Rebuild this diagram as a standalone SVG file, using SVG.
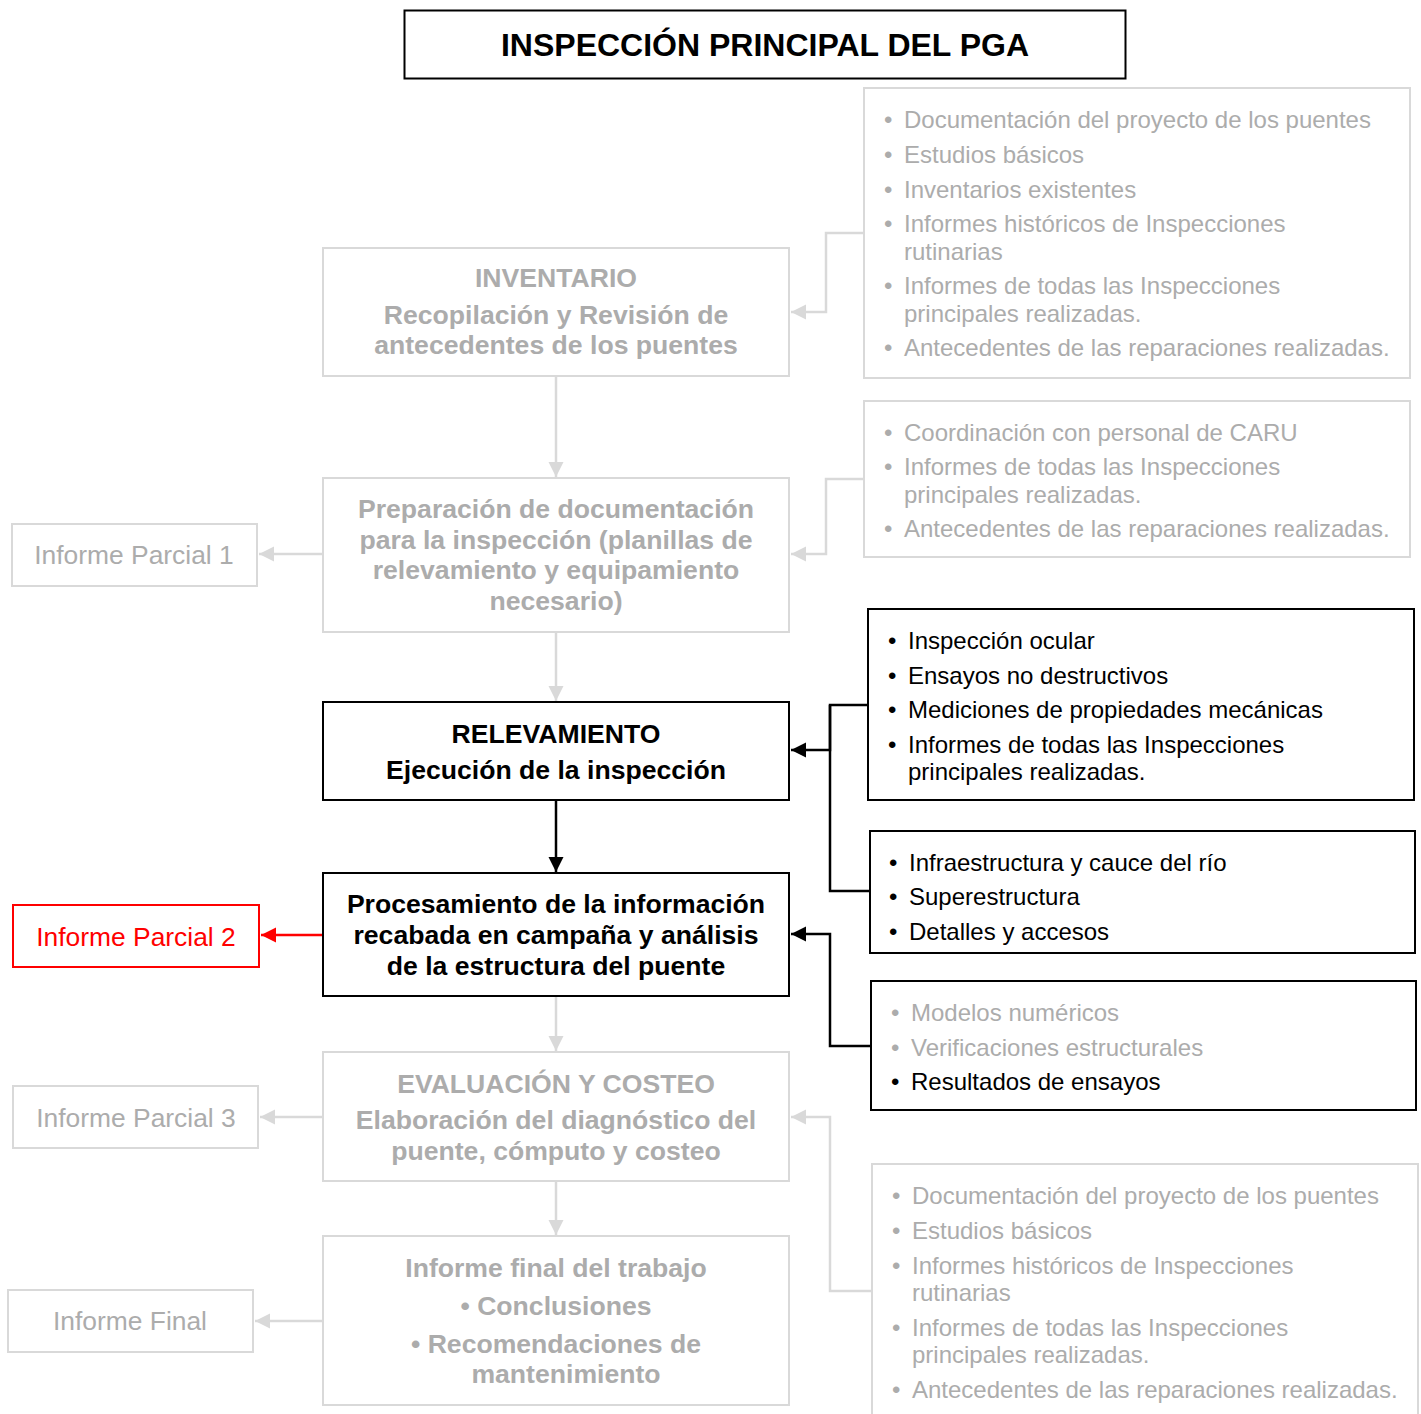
<svg xmlns="http://www.w3.org/2000/svg" width="1421" height="1414" viewBox="0 0 1421 1414">
<style>
  text { font-family: "Liberation Sans", Arial, sans-serif; }
  .bx { fill: #fff; stroke-width: 2; }
  .g { stroke: #d9d9d9; }
  .k { stroke: #000; }
  .r { stroke: #ff0000; }
  .tg { fill: #acacac; }
  .tk { fill: #000; }
  .tr { fill: #ff0000; }
  .b26 { font-size: 26.6px; font-weight: bold; text-anchor: middle; }
  .r26 { font-size: 26.4px; text-anchor: middle; }
  .l24 { font-size: 24px; }
  .cg { fill: none; stroke: #d9d9d9; stroke-width: 2.5; }
  .ck { fill: none; stroke: #000; stroke-width: 2.5; }
  .cr { fill: none; stroke: #ff0000; stroke-width: 2.5; }
</style>
<defs>
  <marker id="ag" markerUnits="userSpaceOnUse" markerWidth="18" markerHeight="18" refX="15" refY="9" orient="auto"><path d="M0,1.5 L15,9 L0,16.5 Z" fill="#d9d9d9"/></marker>
  <marker id="ak" markerUnits="userSpaceOnUse" markerWidth="18" markerHeight="18" refX="15" refY="9" orient="auto"><path d="M0,1.5 L15,9 L0,16.5 Z" fill="#000"/></marker>
  <marker id="ar" markerUnits="userSpaceOnUse" markerWidth="18" markerHeight="18" refX="15" refY="9" orient="auto"><path d="M0,1.5 L15,9 L0,16.5 Z" fill="#ff0000"/></marker>
</defs>
<rect width="1421" height="1414" fill="#fff"/>

<g id="connectors">
  <path class="cg" d="M864,233 H826 V312 H791" marker-end="url(#ag)"/>
  <path class="cg" d="M864,479 H826 V554 H791" marker-end="url(#ag)"/>
  <path class="cg" d="M556,377 V477" marker-end="url(#ag)"/>
  <path class="cg" d="M556,633 V701" marker-end="url(#ag)"/>
  <path class="cg" d="M323,554 H259" marker-end="url(#ag)"/>
  <path class="ck" d="M868,705 H830 V750 H791" marker-end="url(#ak)"/>
  <path class="ck" d="M870,891 H830 V705"/>
  <path class="ck" d="M556,801 V872" marker-end="url(#ak)"/>
  <path class="ck" d="M871,1046 H830 V934 H791" marker-end="url(#ak)"/>
  <path class="cr" d="M323,935 H261" marker-end="url(#ar)"/>
  <path class="cg" d="M556,997 V1051" marker-end="url(#ag)"/>
  <path class="cg" d="M872,1291 H830 V1117 H791" marker-end="url(#ag)"/>
  <path class="cg" d="M323,1117 H260" marker-end="url(#ag)"/>
  <path class="cg" d="M556,1182 V1235" marker-end="url(#ag)"/>
  <path class="cg" d="M323,1321 H255" marker-end="url(#ag)"/>
</g>

<g id="title">
  <rect class="bx k" x="404.5" y="10.5" width="721" height="68"/>
  <text class="tk" x="765" y="56" font-size="32" font-weight="bold" text-anchor="middle">INSPECCIÓN PRINCIPAL DEL PGA</text>
</g>

<g id="inventario">
  <rect class="bx g" x="323" y="248" width="466" height="128"/>
  <text class="tg b26" x="556" y="287">INVENTARIO</text>
  <text class="tg b26" x="556" y="324">Recopilación y Revisión de</text>
  <text class="tg b26" x="556" y="354">antecedentes de los puentes</text>
</g>

<g id="antecedentes1">
  <rect class="bx g" x="864" y="88" width="546" height="290"/>
  <g class="tg l24">
    <text x="884" y="128">•</text><text x="904" y="128">Documentación del proyecto de los puentes</text>
    <text x="884" y="163">•</text><text x="904" y="163">Estudios básicos</text>
    <text x="884" y="198">•</text><text x="904" y="198">Inventarios existentes</text>
    <text x="884" y="232">•</text><text x="904" y="232">Informes históricos de Inspecciones</text>
    <text x="904" y="260">rutinarias</text>
    <text x="884" y="294">•</text><text x="904" y="294">Informes de todas las Inspecciones</text>
    <text x="904" y="322">principales realizadas.</text>
    <text x="884" y="356">•</text><text x="904" y="356">Antecedentes de las reparaciones realizadas.</text>
  </g>
</g>

<g id="preparacion">
  <rect class="bx g" x="323" y="478" width="466" height="154"/>
  <text class="tg b26" x="556" y="518">Preparación de documentación</text>
  <text class="tg b26" x="556" y="549">para la inspección (planillas de</text>
  <text class="tg b26" x="556" y="579">relevamiento y equipamiento</text>
  <text class="tg b26" x="556" y="610">necesario)</text>
</g>

<g id="coordinacion">
  <rect class="bx g" x="864" y="401" width="546" height="156"/>
  <g class="tg l24">
    <text x="884" y="441">•</text><text x="904" y="441">Coordinación con personal de CARU</text>
    <text x="884" y="475">•</text><text x="904" y="475">Informes de todas las Inspecciones</text>
    <text x="904" y="503">principales realizadas.</text>
    <text x="884" y="537">•</text><text x="904" y="537">Antecedentes de las reparaciones realizadas.</text>
  </g>
</g>

<g id="informe-parcial-1">
  <rect class="bx g" x="12" y="524" width="245" height="62"/>
  <text class="tg r26" x="134" y="564">Informe Parcial 1</text>
</g>

<g id="relevamiento">
  <rect class="bx k" x="323" y="702" width="466" height="98"/>
  <text class="tk b26" x="556" y="743">RELEVAMIENTO</text>
  <text class="tk b26" x="556" y="779">Ejecución de la inspección</text>
</g>

<g id="inspeccion">
  <rect class="bx k" x="868" y="609" width="546" height="191"/>
  <g class="tk l24">
    <text x="888" y="649">•</text><text x="908" y="649">Inspección ocular</text>
    <text x="888" y="684">•</text><text x="908" y="684">Ensayos no destructivos</text>
    <text x="888" y="718">•</text><text x="908" y="718">Mediciones de propiedades mecánicas</text>
    <text x="888" y="753">•</text><text x="908" y="753">Informes de todas las Inspecciones</text>
    <text x="908" y="780">principales realizadas.</text>
  </g>
</g>

<g id="infraestructura">
  <rect class="bx k" x="870" y="831" width="545" height="122"/>
  <g class="tk l24">
    <text x="889" y="871">•</text><text x="909" y="871">Infraestructura y cauce del río</text>
    <text x="889" y="905">•</text><text x="909" y="905">Superestructura</text>
    <text x="889" y="940">•</text><text x="909" y="940">Detalles y accesos</text>
  </g>
</g>

<g id="procesamiento">
  <rect class="bx k" x="323" y="873" width="466" height="123"/>
  <text class="tk b26" x="556" y="913">Procesamiento de la información</text>
  <text class="tk b26" x="556" y="944">recabada en campaña y análisis</text>
  <text class="tk b26" x="556" y="975">de la estructura del puente</text>
</g>

<g id="informe-parcial-2">
  <rect class="bx r" x="13" y="905" width="246" height="62"/>
  <text class="tr r26" x="136" y="946">Informe Parcial 2</text>
</g>

<g id="modelos">
  <rect class="bx k" x="871" y="981" width="545" height="129"/>
  <g class="l24">
    <text class="tg" x="891" y="1021">•</text><text class="tg" x="911" y="1021">Modelos numéricos</text>
    <text class="tg" x="891" y="1056">•</text><text class="tg" x="911" y="1056">Verificaciones estructurales</text>
    <text class="tk" x="891" y="1090">•</text><text class="tk" x="911" y="1090">Resultados de ensayos</text>
  </g>
</g>

<g id="evaluacion">
  <rect class="bx g" x="323" y="1052" width="466" height="129"/>
  <text class="tg b26" x="556" y="1093">EVALUACIÓN Y COSTEO</text>
  <text class="tg b26" x="556" y="1129">Elaboración del diagnóstico del</text>
  <text class="tg b26" x="556" y="1160">puente, cómputo y costeo</text>
</g>

<g id="informe-parcial-3">
  <rect class="bx g" x="13" y="1086" width="245" height="62"/>
  <text class="tg r26" x="136" y="1127">Informe Parcial 3</text>
</g>

<g id="antecedentes2">
  <rect class="bx g" x="872" y="1164" width="546" height="260"/>
  <g class="tg l24">
    <text x="892" y="1204">•</text><text x="912" y="1204">Documentación del proyecto de los puentes</text>
    <text x="892" y="1239">•</text><text x="912" y="1239">Estudios básicos</text>
    <text x="892" y="1274">•</text><text x="912" y="1274">Informes históricos de Inspecciones</text>
    <text x="912" y="1301">rutinarias</text>
    <text x="892" y="1336">•</text><text x="912" y="1336">Informes de todas las Inspecciones</text>
    <text x="912" y="1363">principales realizadas.</text>
    <text x="892" y="1398">•</text><text x="912" y="1398">Antecedentes de las reparaciones realizadas.</text>
  </g>
</g>

<g id="informe-final-trabajo">
  <rect class="bx g" x="323" y="1236" width="466" height="169"/>
  <text class="tg b26" x="556" y="1277">Informe final del trabajo</text>
  <text class="tg b26" x="556" y="1315">• Conclusiones</text>
  <text class="tg b26" x="556" y="1353">• Recomendaciones de</text>
  <text class="tg b26" x="566" y="1383">mantenimiento</text>
</g>

<g id="informe-final">
  <rect class="bx g" x="8" y="1290" width="245" height="62"/>
  <text class="tg r26" x="130" y="1330">Informe Final</text>
</g>
</svg>
